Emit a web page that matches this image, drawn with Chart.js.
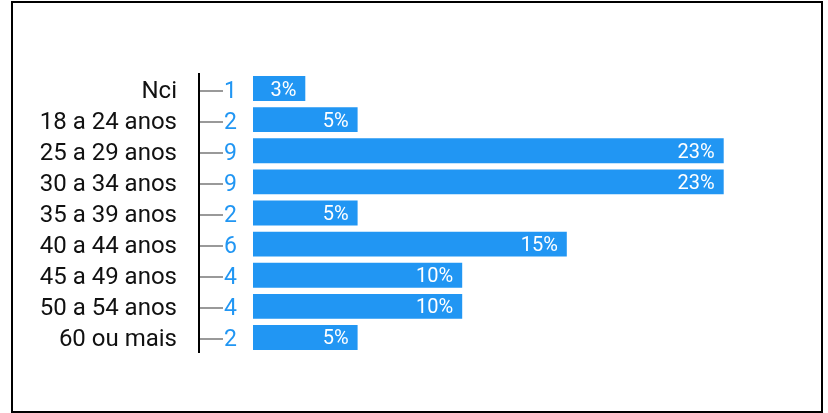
<!DOCTYPE html>
<html>
<head>
<meta charset="utf-8">
<script src="https://cdn.jsdelivr.net/npm/chart.js@4"></script>
<style>
  html, body { margin: 0; padding: 0; background: #fff; }
  #wrap { position: relative; width: 828px; height: 413px; }
  #frame {
    position: absolute; left: 11px; top: 1px; width: 812px; height: 412px;
    box-sizing: border-box; border: 2px solid #000; pointer-events: none;
  }
  canvas { position: absolute; left: 0; top: 0; }
</style>
</head>
<body>
<div id="wrap">
  <canvas id="chart" width="828" height="413"></canvas>
  <div id="frame"></div>
</div>
<script>
var categories = ['Nci', '18 a 24 anos', '25 a 29 anos', '30 a 34 anos', '35 a 39 anos',
  '40 a 44 anos', '45 a 49 anos', '50 a 54 anos', '60 ou mais'];
var counts = [1, 2, 9, 9, 2, 6, 4, 4, 2];
var total = counts.reduce((a, b) => a + b, 0);

var blue = '#2196f3';

// left side: category names, axis line, tick marks and counts; percentages in the bars
const sideLabels = {
  id: 'sideLabels',
  afterDraw(chart) {
    const ctx = chart.ctx;
    const area = chart.chartArea;
    const y = chart.scales.y;
    const axisX = area.left - 54;
    ctx.save();
    ctx.strokeStyle = '#000';
    ctx.lineWidth = 2;
    ctx.beginPath();
    ctx.moveTo(axisX, area.top);
    ctx.lineTo(axisX, area.bottom);
    ctx.stroke();
    ctx.textBaseline = 'middle';
    categories.forEach((label, i) => {
      const py = Math.round(y.getPixelForValue(i)) + 2;
      ctx.font = '24px Roboto';
      ctx.textAlign = 'right';
      ctx.fillStyle = '#111';
      ctx.fillText(label, axisX - 22, py + 1);
      ctx.strokeStyle = '#999';
      ctx.beginPath();
      ctx.moveTo(axisX + 1, py);
      ctx.lineTo(axisX + 24, py);
      ctx.stroke();
      ctx.font = '23px Roboto';
      ctx.textAlign = 'left';
      ctx.fillStyle = blue;
      ctx.fillText(String(counts[i]), axisX + 25, py + 1);
    });
    const meta = chart.getDatasetMeta(0);
    ctx.font = '20px Roboto';
    ctx.textAlign = 'right';
    ctx.fillStyle = '#fff';
    meta.data.forEach((bar, i) => {
      const pct = Math.round(counts[i] / total * 100) + '%';
      ctx.fillText(pct, bar.x - 9, bar.y + 2);
    });
    ctx.restore();
  }
};

new Chart(document.getElementById('chart'), {
  type: 'bar',
  data: {
    labels: categories,
    datasets: [{
      data: counts,
      backgroundColor: blue,
      borderWidth: 0,
      barPercentage: 0.8,
      categoryPercentage: 1
    }]
  },
  plugins: [sideLabels],
  options: {
    indexAxis: 'y',
    responsive: false,
    animation: false,
    layout: { padding: { top: 73, bottom: 60, right: 52, left: 253 } },
    plugins: { legend: { display: false }, tooltip: { enabled: false } },
    scales: {
      x: { display: false, min: 0, max: 10 },
      y: { display: false }
    }
  }
});
</script>
</body>
</html>
